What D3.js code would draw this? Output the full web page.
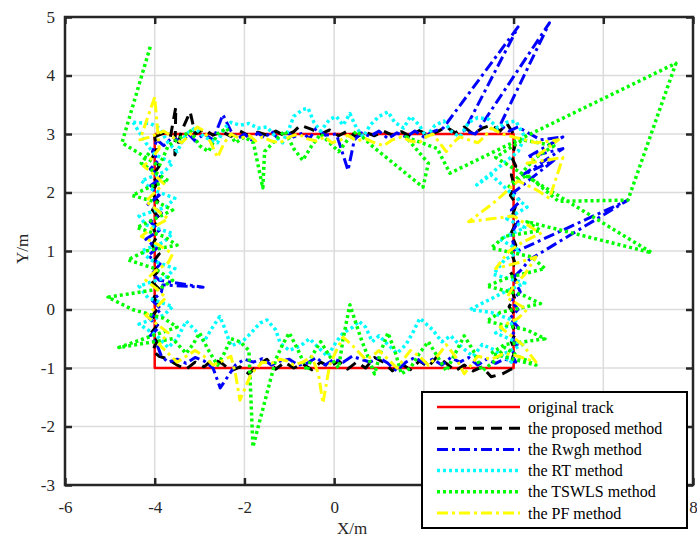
<!DOCTYPE html>
<html>
<head>
<meta charset="utf-8">
<script src="https://cdn.jsdelivr.net/npm/d3@7"></script>
<style>
  html, body { margin: 0; padding: 0; background: #fff; }
  svg { display: block; font-family: "Liberation Serif", "Times New Roman", serif; }
</style>
</head>
<body>
<svg id="chart" width="697" height="540"></svg>
<script>
// Axis ticks
const xTicks = [-6, -4, -2, 0, 2, 4, 6, 8];
const yTicks = [-3, -2, -1, 0, 1, 2, 3, 4, 5];

// Series names (legend order)
const seriesNames = ["original track", "the proposed method", "the Rwgh method",
                     "the RT method", "the TSWLS method", "the PF method"];

// Reference trajectory (rectangle)
const trackPts = [[-4, 3], [4, 3], [4, -1], [-4, -1], [-4, 3]];

// Proposed method estimates
const proposedPts = [
  [-4.0,2.95],[-3.8,3.02],[-3.65,2.95],[-3.53,3.46],[-3.55,2.64],[-3.4,3.05],[-3.21,3.38],[-3.1,3.0],
  [-2.9,3.08],[-2.7,2.98],[-2.5,3.04],[-2.3,2.96],[-2.1,3.05],[-1.9,2.97],[-1.7,3.03],[-1.5,2.98],
  [-1.3,3.05],[-1.1,2.97],[-0.9,3.04],[-0.75,3.15],[-0.5,3.08],[-0.3,3.0],[-0.1,3.07],[0.1,2.97],
  [0.3,3.05],[0.5,2.95],[0.7,3.03],[0.9,2.97],[1.1,3.05],[1.3,2.98],[1.5,3.04],[1.7,2.96],
  [1.9,3.06],[2.1,2.98],[2.3,3.04],[2.5,3.12],[2.7,3.02],[2.9,3.12],[3.1,3.0],[3.3,3.1],
  [3.5,3.15],[3.7,3.05],[3.85,3.18],[4.0,3.0],
  [4.03,2.8],[3.96,2.6],[4.05,2.45],[3.95,2.3],[4.02,2.1],[3.93,1.95],[4.06,1.8],[3.97,1.6],
  [4.04,1.45],[3.94,1.3],[4.05,1.1],[3.96,0.95],[4.03,0.8],[3.92,0.65],[4.05,0.5],[3.95,0.35],
  [4.02,0.2],[3.9,0.05],[4.04,-0.1],[3.96,-0.25],[4.05,-0.4],[3.95,-0.55],[4.03,-0.7],[3.97,-0.85],
  [4.0,-1.0],
  [3.75,-1.1],[3.5,-1.15],[3.3,-0.98],[3.1,-1.05],[2.9,-0.95],[2.7,-1.05],[2.5,-0.92],[2.3,-0.8],
  [2.1,-0.98],[1.9,-0.88],[1.7,-1.03],[1.5,-0.93],[1.3,-1.05],[1.1,-0.9],[0.9,-0.82],[0.7,-1.0],
  [0.5,-0.9],[0.3,-1.02],[0.1,-0.88],[-0.1,-0.98],[-0.3,-0.9],[-0.5,-1.03],[-0.7,-0.93],[-0.9,-1.0],
  [-1.1,-0.9],[-1.3,-1.02],[-1.5,-0.85],[-1.7,-0.95],[-1.9,-1.1],[-2.1,-0.98],[-2.3,-1.05],
  [-2.5,-0.92],[-2.7,-0.85],[-2.9,-0.98],[-3.1,-0.9],[-3.3,-1.02],[-3.5,-0.95],[-3.7,-0.85],
  [-3.9,-0.8],[-4.05,-0.7],
  [-3.95,-0.55],[-4.08,-0.4],[-3.92,-0.25],[-4.05,-0.1],[-3.88,0.05],[-4.02,0.2],[-3.9,0.35],
  [-4.1,0.5],[-3.93,0.65],[-4.05,0.8],[-3.9,0.95],[-4.06,1.1],[-3.95,1.25],[-4.04,1.4],[-3.88,1.55],
  [-4.05,1.7],[-3.93,1.85],[-4.07,2.0],[-3.95,2.15],[-4.04,2.3],[-3.9,2.45],[-4.05,2.6],[-3.95,2.75],
  [-4.0,2.95]
];

// Rwgh method estimates
const rwghPts = [
  [-3.95,2.9],[-3.8,2.8],[-3.6,2.95],[-3.4,2.85],[-3.25,3.0],[-3.1,2.88],[-2.9,3.0],[-2.7,2.9],
  [-2.48,3.33],[-2.3,3.05],[-2.15,2.92],[-2.0,3.0],[-1.85,2.9],[-1.7,3.02],[-1.55,2.93],[-1.4,3.05],
  [-1.25,2.92],[-1.1,3.05],[-0.9,2.95],[-0.7,3.02],[-0.55,2.92],[-0.4,3.1],[-0.2,2.98],[0.05,3.0],
  [0.31,2.38],[0.45,2.9],[0.6,3.02],[0.8,2.96],[1.0,3.05],[1.2,2.92],[1.4,3.02],[1.6,2.95],
  [1.8,3.05],[2.0,2.95],[2.2,3.04],[2.43,3.1],[4.1,4.83],[2.9,3.05],[3.15,3.0],[4.8,4.9],
  [3.7,3.15],[3.9,3.05],[4.1,3.12],[4.6,2.9],[5.1,2.95],[4.3,2.6],[5.1,2.75],[4.2,2.3],
  [4.9,2.55],[4.0,2.0],[4.15,1.85],[3.95,1.7],[4.1,1.5],[3.95,1.3],[4.03,0.98],[6.55,1.87],
  [4.35,0.85],[4.2,0.7],[4.0,0.55],[4.15,0.3],[3.95,0.15],[4.1,0.0],[3.92,-0.15],[4.1,-0.3],
  [3.95,-0.45],[4.08,-0.6],[3.95,-0.75],[4.05,-0.9],
  [3.8,-0.85],[3.6,-0.92],[3.4,-0.85],[3.2,-0.95],[3.0,-0.82],[2.8,-0.9],[2.6,-0.82],[2.4,-0.95],
  [2.2,-0.85],[2.0,-0.92],[1.8,-0.82],[1.6,-0.9],[1.4,-1.05],[1.2,-0.92],[1.0,-0.82],[0.8,-0.9],
  [0.6,-0.85],[0.4,-0.8],[0.2,-0.9],[0.0,-0.85],[-0.2,-0.95],[-0.4,-0.82],[-0.6,-0.92],[-0.8,-0.95],
  [-1.0,-0.85],[-1.2,-0.88],[-1.4,-0.95],[-1.6,-0.84],[-1.8,-0.9],[-2.0,-0.85],[-2.2,-0.95],
  [-2.54,-1.34],[-2.7,-1.0],[-2.9,-0.88],[-3.1,-0.82],[-3.3,-0.92],[-3.5,-0.85],[-3.7,-0.9],
  [-3.85,-0.8],
  [-3.95,-0.6],[-4.1,-0.45],[-3.9,-0.3],[-4.12,-0.15],[-3.85,0.0],[-4.05,0.15],[-3.85,0.3],
  [-3.82,0.42],[-2.92,0.38],[-3.9,0.5],[-4.05,0.62],[-3.88,0.78],[-4.15,0.92],[-3.95,1.05],
  [-4.2,1.2],[-3.9,1.35],[-4.1,1.5],[-3.85,1.65],[-4.15,1.8],[-3.9,1.95],[-4.12,2.1],[-3.85,2.25],
  [-4.1,2.4],[-3.92,2.55],[-4.05,2.7],[-3.95,2.9]
];

// RT method estimates
const rtPts = [
  [-4.48,3.2],[-4.1,3.18],[-3.9,3.1],[-3.7,2.85],[-3.5,2.7],[-3.3,3.0],[-3.1,3.1],[-2.9,2.95],
  [-2.6,2.85],[-2.45,3.1],[-2.3,3.2],[-2.1,3.15],[-1.9,3.18],[-1.7,3.1],[-1.5,3.12],[-1.3,2.95],
  [-1.15,2.85],[-1.0,3.1],[-0.9,3.3],[-0.7,3.42],[-0.58,3.44],[-0.45,3.2],[-0.3,3.05],[-0.1,3.25],
  [0.05,3.3],[0.2,3.15],[0.35,3.35],[0.5,3.1],[0.65,2.95],[0.8,3.15],[1.0,3.3],[1.2,3.38],
  [1.35,3.2],[1.55,3.1],[1.7,3.3],[1.9,3.15],[2.05,2.95],[2.25,3.15],[2.45,3.22],[2.6,3.05],
  [2.8,2.95],[3.0,3.2],[3.2,3.28],[3.45,3.25],[3.65,3.1],[3.85,3.2],[4.05,3.22],[4.25,2.95],
  [4.1,2.7],[3.7,2.45],[3.18,2.13],[3.5,2.3],[4.0,1.95],[4.3,1.75],[3.85,1.55],[4.25,1.4],
  [3.7,1.2],[4.15,1.0],[3.8,0.85],[3.55,0.6],[4.25,0.45],[3.8,0.3],[3.03,0.0],[3.5,-0.05],
  [4.05,-0.2],[3.6,-0.4],[4.2,-0.6],[3.8,-0.75],[3.95,-0.9],
  [3.6,-0.7],[3.3,-0.6],[3.1,-0.8],[2.85,-0.65],[2.6,-0.45],[2.4,-0.55],[2.2,-0.35],[1.91,-0.15],
  [1.75,-0.4],[1.6,-0.6],[1.4,-0.75],[1.2,-0.6],[1.0,-0.45],[0.85,-0.55],[0.7,-0.3],[0.55,-0.2],
  [0.42,-0.3],[0.2,-0.4],[0.05,-0.55],[-0.15,-0.8],[-0.35,-0.65],[-0.55,-0.5],[-0.75,-0.62],
  [-1.0,-0.7],[-1.2,-0.58],[-1.3,-0.35],[-1.5,-0.18],[-1.65,-0.23],[-1.85,-0.4],[-2.05,-0.55],
  [-2.3,-0.62],[-2.45,-0.3],[-2.55,-0.12],[-2.75,-0.35],[-2.9,-0.55],[-3.1,-0.35],[-3.3,-0.2],
  [-3.5,-0.5],[-3.7,-0.65],[-3.95,-0.45],
  [-4.35,-0.25],[-3.8,-0.1],[-3.6,0.05],[-4.15,0.2],[-4.35,0.4],[-3.75,0.55],[-3.55,0.7],
  [-4.1,0.85],[-4.3,1.0],[-3.8,1.15],[-3.6,1.3],[-4.2,1.45],[-4.35,1.6],[-3.75,1.75],[-3.55,1.9],
  [-4.05,2.05],[-4.3,2.2],[-3.8,2.35],[-3.6,2.5],[-4.0,2.65],[-4.2,2.85],[-4.48,3.2]
];

// TSWLS method estimates
const tswlsPts = [
  [-4.1,4.49],[-4.73,2.85],[-4.2,2.6],[-3.9,2.45],[-3.7,2.8],[-3.4,2.95],[-3.2,3.05],[-3.0,2.8],
  [-2.8,2.7],[-2.6,3.0],[-2.4,3.1],[-2.2,2.85],[-2.0,2.95],[-1.8,2.85],[-1.59,2.08],[-1.55,2.7],
  [-1.3,2.9],[-1.1,3.05],[-0.9,2.75],[-0.7,2.55],[-0.5,2.8],[-0.3,3.0],[-0.1,2.85],[0.1,2.7],
  [0.3,2.9],[0.5,3.05],[0.7,2.9],[0.87,2.78],[1.98,2.09],[2.1,2.5],[1.6,2.95],[2.3,2.75],
  [2.58,2.33],[7.62,4.21],[6.55,1.87],[5.0,1.85],[4.3,2.3],[3.9,2.1],[4.5,2.6],[4.9,2.8],
  [4.2,2.9],[3.6,2.6],[7.08,0.97],[4.3,1.5],[4.6,1.35],[3.8,1.25],[3.5,1.05],[4.4,0.9],
  [4.7,0.7],[3.9,0.55],[3.4,0.4],[4.2,0.25],[4.6,0.1],[3.7,-0.05],[3.4,-0.2],[4.3,-0.35],
  [4.7,-0.5],[3.8,-0.6],[3.5,-0.75],[4.5,-0.95],[4.1,-0.8],
  [3.8,-0.65],[3.55,-0.9],[3.3,-1.05],[3.1,-0.7],[2.9,-0.45],[2.7,-0.75],[2.5,-1.05],[2.3,-0.8],
  [2.1,-0.55],[1.9,-0.75],[1.7,-1.0],[1.5,-1.1],[1.35,-0.7],[1.2,-0.4],[1.05,-0.7],[0.9,-1.1],
  [0.6,-0.5],[0.35,0.08],[0.2,-0.5],[0.1,-1.0],[-0.1,-0.8],[-0.3,-0.55],[-0.5,-0.8],[-0.6,-1.05],
  [-0.8,-0.7],[-1.0,-0.4],[-1.15,-0.6],[-1.3,-0.85],[-1.81,-2.35],[-1.9,-0.7],[-2.1,-0.55],
  [-2.3,-0.5],[-2.45,-0.75],[-2.6,-0.95],[-2.8,-0.7],[-3.0,-0.4],[-3.15,-0.6],[-3.3,-0.75],
  [-3.6,-0.5],[-4.8,-0.65],
  [-3.5,-0.3],[-3.8,-0.15],[-4.5,0.0],[-5.04,0.21],[-3.9,0.35],[-3.6,0.5],[-4.0,0.7],[-4.6,0.85],
  [-4.2,1.0],[-3.5,1.1],[-3.8,1.25],[-4.4,1.4],[-4.0,1.55],[-3.6,1.7],[-3.9,1.82],[-4.5,1.95],
  [-4.1,2.1],[-3.7,2.2],[-4.0,2.35],[-4.3,2.5],[-4.1,2.7]
];

// PF method estimates
const pfPts = [
  [-4.0,3.63],[-4.33,2.9],[-4.1,2.95],[-3.8,3.05],[-3.6,2.95],[-3.4,2.85],[-3.2,3.0],[-3.05,3.12],
  [-2.9,3.05],[-2.75,2.85],[-2.6,2.6],[-2.45,2.85],[-2.3,3.0],[-2.1,2.92],[-1.9,2.98],[-1.75,2.88],
  [-1.6,2.95],[-1.4,2.88],[-1.2,2.85],[-1.0,2.95],[-0.8,3.0],[-0.6,2.92],[-0.4,2.88],[-0.2,2.95],
  [-0.05,2.85],[0.15,2.9],[0.3,2.98],[0.5,2.88],[0.7,2.92],[0.9,2.85],[1.1,2.8],[1.3,2.9],
  [1.5,2.95],[1.7,2.88],[1.9,2.85],[2.05,2.95],[2.2,3.0],[2.35,2.85],[2.5,2.7],[2.65,2.85],
  [2.8,2.95],[3.0,2.9],[3.2,2.85],[3.35,2.95],[3.5,3.1],[3.75,3.0],[4.0,2.95],[4.5,2.85],
  [5.0,2.9],[4.3,2.5],[5.1,2.6],[4.8,1.9],[4.5,2.05],[4.1,2.2],[3.6,1.85],[3.0,1.5],
  [3.5,1.55],[4.0,1.6],[4.6,1.3],[4.2,1.15],[3.9,1.0],[3.6,0.7],[4.1,0.8],[4.5,0.9],
  [4.25,0.6],[4.0,0.4],[3.85,0.2],[4.3,0.0],[4.1,-0.15],[3.7,-0.3],[3.95,-0.45],[4.2,-0.6],
  [4.35,-0.75],[4.5,-0.9],
  [4.1,-0.8],[3.8,-0.75],[3.5,-0.85],[3.2,-0.8],[3.05,-0.95],[2.9,-1.1],[2.7,-0.8],[2.5,-0.6],
  [2.3,-0.8],[2.1,-0.95],[1.9,-0.8],[1.7,-0.7],[1.55,-0.85],[1.4,-1.0],[1.2,-0.85],[1.0,-0.7],
  [0.85,-0.8],[0.7,-0.85],[0.45,-0.65],[0.2,-0.47],[0.05,-0.7],[-0.1,-0.95],[-0.25,-1.6],
  [-0.35,-1.1],[-0.5,-0.8],[-0.7,-0.9],[-0.9,-0.95],[-1.05,-0.88],[-1.2,-0.85],[-1.4,-0.92],
  [-1.6,-0.9],[-1.85,-1.1],[-2.1,-1.55],[-2.2,-1.1],[-2.3,-0.8],[-2.5,-0.88],[-2.7,-0.95],
  [-2.9,-0.8],[-3.1,-0.7],[-3.3,-0.8],[-3.5,-0.9],[-3.7,-0.75],[-3.9,-0.6],
  [-3.7,-0.4],[-3.95,-0.25],[-4.2,-0.1],[-3.95,0.05],[-3.75,0.2],[-3.95,0.35],[-4.2,0.5],
  [-4.0,0.65],[-3.7,0.8],[-3.6,0.95],[-3.9,1.1],[-4.3,1.25],[-4.05,1.4],[-3.7,1.55],[-3.95,1.7],
  [-4.2,1.85],[-4.0,2.0],[-3.8,2.15],[-4.0,2.3],[-4.25,2.45],[-4.05,2.6],[-3.9,2.75],[-4.0,3.63]
];

const seriesData = [trackPts, proposedPts, rwghPts, rtPts, tswlsPts, pfPts];

// Line styles for each series
const styles = [
  { color: "#ff0000", width: 2.5, dash: null },
  { color: "#000000", width: 3, dash: "11,7" },
  { color: "#0000ff", width: 3, dash: "11,4,3,4" },
  { color: "#00ffff", width: 3.5, dash: "3,3" },
  { color: "#00ff00", width: 3.5, dash: "3,3" },
  { color: "#ffff00", width: 3, dash: "11,4,3,4" }
];

const svg = d3.select("#chart");
const margin = { left: 65, right: 693, top: 17, bottom: 485 };
const x = d3.scaleLinear().domain([-6, 8]).range([margin.left, margin.right]);
const y = d3.scaleLinear().domain([-3, 5]).range([margin.bottom, margin.top]);
const axisColor = "#262626";

// Legend box position
const legendBox = { x: 422, y: 392, w: 265, h: 136 };

// Grid
const grid = svg.append("g").attr("stroke", "#dcdcdc").attr("stroke-width", 1.5);
grid.selectAll("line.gx").data(xTicks.slice(1, -1)).join("line")
  .attr("x1", d => x(d)).attr("x2", d => x(d))
  .attr("y1", margin.top).attr("y2", margin.bottom);
grid.selectAll("line.gy").data(yTicks.slice(1, -1)).join("line")
  .attr("y1", d => y(d)).attr("y2", d => y(d))
  .attr("x1", margin.left).attr("x2", margin.right);

// Data lines
const line = d3.line().x(d => x(d[0])).y(d => y(d[1]));
const plot = svg.append("g");
seriesData.forEach((pts, i) => {
  const s = styles[i];
  plot.append("path")
    .datum(pts)
    .attr("d", line)
    .attr("fill", "none")
    .attr("stroke", s.color)
    .attr("stroke-width", s.width)
    .attr("stroke-linejoin", "round")
    .attr("stroke-dasharray", s.dash);
});

// Axes with inward ticks
const fontSize = 17;
function styleAxis(g, labels) {
  g.select(".domain").remove();
  g.selectAll(".tick line").attr("stroke", axisColor).attr("stroke-width", 2.5);
  g.selectAll(".tick text")
    .attr("fill", axisColor)
    .attr("font-size", fontSize)
    .attr("font-family", "Liberation Serif, Times New Roman, serif");
  if (!labels) g.selectAll(".tick text").remove();
}
const fmt = d => String(d);
svg.append("g").attr("transform", `translate(0,${margin.bottom})`)
  .call(d3.axisBottom(x).tickValues(xTicks).tickSize(-7).tickPadding(16).tickFormat(fmt))
  .call(g => styleAxis(g, true))
  // labels that sit under the legend box are covered by it
  .call(g => g.selectAll(".tick text")
    .filter(d => x(d) > legendBox.x - 8 && x(d) < legendBox.x + legendBox.w)
    .remove());
svg.append("g").attr("transform", `translate(0,${margin.top})`)
  .call(d3.axisTop(x).tickValues(xTicks).tickSize(-7))
  .call(g => styleAxis(g, false));
svg.append("g").attr("transform", `translate(${margin.left},0)`)
  .call(d3.axisLeft(y).tickValues(yTicks).tickSize(-7).tickPadding(10).tickFormat(fmt))
  .call(g => styleAxis(g, true));
svg.append("g").attr("transform", `translate(${margin.right},0)`)
  .call(d3.axisRight(y).tickValues(yTicks).tickSize(-7))
  .call(g => styleAxis(g, false));

// Frame
svg.append("rect")
  .attr("x", margin.left).attr("y", margin.top)
  .attr("width", margin.right - margin.left).attr("height", margin.bottom - margin.top)
  .attr("fill", "none").attr("stroke", axisColor).attr("stroke-width", 2.5);

// Axis titles
svg.append("text")
  .attr("x", 352).attr("y", 534)
  .attr("text-anchor", "middle").attr("font-size", fontSize).attr("fill", axisColor)
  .text("X/m");
svg.append("text")
  .attr("transform", "translate(28,249) rotate(-90)")
  .attr("text-anchor", "middle").attr("font-size", fontSize).attr("fill", axisColor)
  .text("Y/m");

// Legend
const legend = svg.append("g");
legend.append("rect")
  .attr("x", legendBox.x).attr("y", legendBox.y)
  .attr("width", legendBox.w).attr("height", legendBox.h)
  .attr("fill", "#fff").attr("stroke", "#000").attr("stroke-width", 2);
seriesNames.forEach((name, i) => {
  const s = styles[i];
  const yy = 407 + i * 21.2;
  legend.append("line")
    .attr("x1", 437).attr("x2", 520).attr("y1", yy).attr("y2", yy)
    .attr("stroke", s.color).attr("stroke-width", s.width)
    .attr("stroke-dasharray", s.dash);
  legend.append("text")
    .attr("x", 528).attr("y", yy).attr("dy", "0.35em")
    .attr("font-size", 16).attr("fill", "#000")
    .text(name);
});
</script>
</body>
</html>
